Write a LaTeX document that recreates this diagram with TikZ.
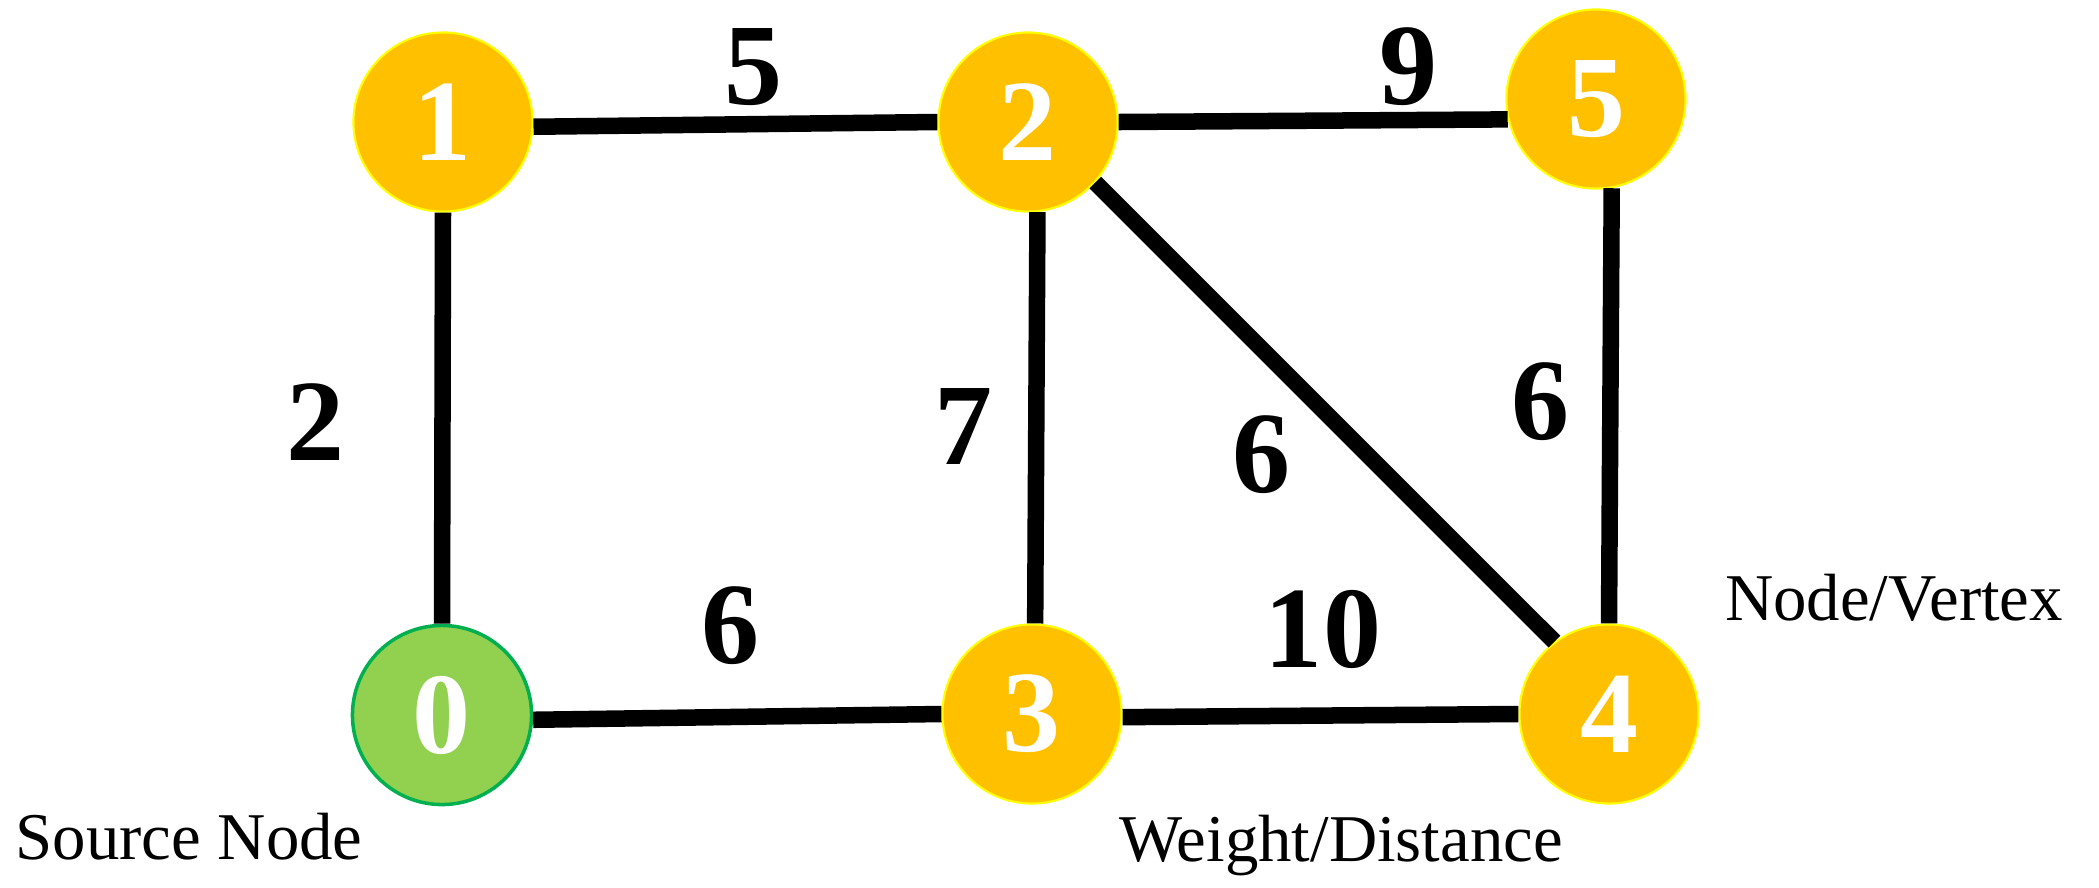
\documentclass[tikz,border=0pt]{standalone}
\usepackage{fontspec}
\setmainfont{Liberation Serif}
\definecolor{nodeorange}{HTML}{FFC000}
\definecolor{nodeyellow}{HTML}{FFFF00}
\definecolor{nodegreen}{HTML}{92D050}
\definecolor{nodegreenline}{HTML}{00B050}
\begin{document}
\begin{tikzpicture}[x=0.01cm,y=-0.01cm,
  vert/.style={circle,fill=nodeorange,draw=nodeyellow,line width=0.6pt,minimum size=1.79cm,inner sep=0pt,text=white,font=\fontsize{33}{36}\selectfont\bfseries},
  src/.style={vert,fill=nodegreen,draw=nodegreenline,line width=1pt},
  edge/.style={line width=0.165cm,black},
  wt/.style={font=\fontsize{33}{36}\selectfont\bfseries,inner sep=0pt},
  lbl/.style={font=\fontsize{19}{22}\selectfont,inner sep=0pt}]
\useasboundingbox (0,0) rectangle (2099,887);
% nodes
\node[vert] (n1) at (443,122) {1};
\node[vert] (n2) at (1028,122) {2};
\node[vert] (n5) at (1596,99) {5};
\node[src]  (n0) at (442,715) {0};
\node[vert] (n3) at (1032,714) {3};
\node[vert] (n4) at (1609,714) {4};
% edges
\begin{scope}[on background layer/.style={}]
\draw[edge] (n1.-3) -- (n2.180);
\draw[edge] (n2.0) -- (n5.193);
\draw[edge] (n1.south) -- (n0.north);
\draw[edge] (n2.276) -- (n3.88);
\draw[edge] (n2.-42) -- (n4.127);
\draw[edge] (n5.280) -- (n4.north);
\draw[edge] (n0.-3) -- (n3.180);
\draw[edge] (n3.-2) -- (n4.180);
\end{scope}
% weights
\node[wt] (w12) at (754,67) {5};
\node[wt] (w25) at (1408,67) {9};
\node[wt] (w10) at (316,422) {2};
\node[wt] (w23) at (964,426) {7};
\node[wt] (w24) at (1262,455) {6};
\node[wt] (w54) at (1540,402) {6};
\node[wt] (w03) at (731,626) {6};
\node[wt] (w34) at (1323,629) {10};
% labels
\node[lbl] (lv) at (1894,598) {Node/Vertex};
\node[lbl] (ls) at (189,837) {Source Node};
\node[lbl] (lw) at (1341,846) {Weight/Distance};
\end{tikzpicture}
\end{document}
